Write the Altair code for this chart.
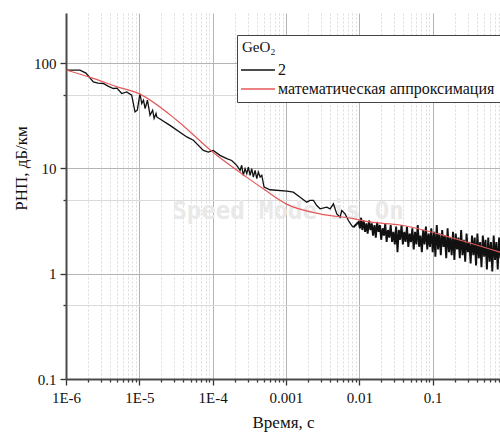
import altair as alt
import pandas as pd

# ---- data ----
# black curve "2" (smooth-ish part, up to ~0.008 s)
black_t = [1.0e-6, 1.55e-6, 1.87e-6, 2.36e-6, 2.73e-6, 3.23e-6, 3.74e-6, 4.42e-6, 4.96e-6, 5.75e-6,
           6.73e-6, 7.87e-6, 8.73e-6, 9.39e-6, 1.02e-5, 1.08e-5, 1.14e-5, 1.20e-5, 1.29e-5, 1.40e-5,
           1.52e-5, 1.59e-5, 1.69e-5, 1.73e-5, 2.62e-5, 4.44e-5, 5.46e-5, 7.47e-5, 8.73e-5, 1.02e-4,
           1.26e-4, 1.56e-4, 1.82e-4, 2.13e-4, 2.37e-4, 2.49e-4, 2.62e-4, 2.77e-4, 2.92e-4, 3.07e-4,
           3.24e-4, 3.41e-4, 3.59e-4, 3.79e-4, 4.00e-4, 4.20e-4, 4.44e-4, 4.68e-4, 4.92e-4, 5.03e-4,
           6.07e-4, 1.03e-3, 1.26e-3, 1.56e-3, 1.92e-3, 2.13e-3, 2.37e-3, 2.63e-3, 2.92e-3, 3.60e-3,
           4.00e-3, 4.44e-3, 4.68e-3, 4.93e-3, 5.47e-3, 5.77e-3, 6.40e-3, 7.10e-3, 7.90e-3, 8.30e-3]
black_v = [85.8, 85.8, 80.3, 66.4, 64.5, 64.0, 60.4, 57.4, 57.8, 51.4,
           53.3, 49.6, 34.4, 35.7, 51.4, 41.3, 44.4, 37.0, 44.4, 32.0,
           35.7, 29.8, 33.2, 30.8, 25.6, 19.9, 18.5, 14.8, 14.3, 14.8,
           13.3, 12.4, 11.9, 10.7, 9.57, 10.7, 8.58, 9.94, 8.9, 10.3,
           8.58, 9.94, 8.27, 9.57, 7.98, 9.22, 8.27, 8.58, 7.15, 6.64,
           6.27, 6.08, 5.95, 5.33, 4.78, 4.96, 4.96, 4.44, 4.13, 4.28,
           4.13, 4.61, 4.13, 3.70, 3.44, 3.98, 3.70, 3.20, 2.86, 2.76]

# black curve "2" (noisy part, 0.01 s and beyond)
noise_t = [0.0083, 0.0098, 0.0102, 0.0106, 0.0110, 0.0115, 0.0120, 0.0125, 0.0130, 0.0136, 0.0142,
           0.0148, 0.0154, 0.0161, 0.0168, 0.0175, 0.0183, 0.0191, 0.0199, 0.0208, 0.0217,
           0.0226, 0.0236, 0.0246, 0.0257, 0.0268, 0.0280, 0.0292, 0.0305, 0.0318, 0.0332,
           0.0346, 0.0361, 0.0377, 0.0393, 0.0410, 0.0428, 0.0447, 0.0466, 0.0486, 0.0507,
           0.0529, 0.0552, 0.0576, 0.0601, 0.0627, 0.0654, 0.0683, 0.0713, 0.0744, 0.0776,
           0.0810, 0.0845, 0.0882, 0.0920, 0.0960, 0.1002, 0.1046, 0.1091, 0.1139, 0.1188,
           0.1240, 0.1294, 0.1350, 0.1409, 0.1470, 0.1534, 0.1601, 0.1670, 0.1743, 0.1819,
           0.1898, 0.1980, 0.2066, 0.2156, 0.2250, 0.2348, 0.2450, 0.2556, 0.2667, 0.2783,
           0.2904, 0.3030, 0.3162, 0.3300, 0.3443, 0.3593, 0.3749, 0.3912, 0.4082, 0.4260,
           0.4445, 0.4638, 0.4840, 0.5050, 0.5270, 0.5499, 0.5738, 0.5988, 0.6248, 0.6520,
           0.6803, 0.7099, 0.7408, 0.7730, 0.8066, 0.8417]
noise_v = [2.76, 3.1, 2.7, 3.4, 2.6, 3.2, 2.5, 3.0, 2.4, 3.2, 2.6,
           3.0, 2.3, 2.9, 2.2, 3.1, 2.5, 2.9, 2.1, 2.7, 2.3,
           3.0, 2.0, 2.6, 2.2, 2.9, 2.0, 2.5, 1.9, 2.8, 1.6,
           2.6, 2.1, 2.9, 1.9, 2.5, 2.0, 2.8, 1.8, 2.4, 2.0,
           2.7, 1.7, 2.5, 1.9, 2.9, 1.8, 2.3, 1.6, 2.6, 1.9,
           2.8, 1.7, 2.4, 1.8, 2.7, 1.6, 2.5, 1.45, 2.9, 1.7,
           2.4, 1.5, 2.6, 1.8, 2.3, 1.4, 2.7, 1.6, 2.2, 1.5,
           2.5, 1.35, 2.4, 1.7, 2.2, 1.4, 2.6, 1.5, 2.1, 1.3,
           2.4, 1.6, 2.0, 1.25, 2.3, 1.5, 2.2, 1.2, 2.4, 1.4,
           2.0, 1.15, 2.3, 1.45, 2.1, 1.1, 2.2, 1.3, 2.0, 1.05,
           2.3, 1.35, 2.0, 1.1, 2.2, 1.4]

# red curve: mathematical approximation
red_t = [1e-6, 2.36e-6, 5e-6, 1e-5, 3.24e-5, 1e-4, 2.9e-4, 4.9e-4, 1.0e-3, 2.9e-3,
         8.0e-3, 0.014, 0.036, 0.173, 0.83]
red_v = [86, 71.5, 59.5, 51, 28.7, 14.3, 8.26, 6.4, 4.6, 3.7,
         3.35, 3.1, 2.9, 2.22, 1.6]

series_names = ["2", "математическая аппроксимация"]
series_colors = ["#111111", "#e3595a"]

x_decades = [1e-6, 1e-5, 1e-4, 1e-3, 1e-2, 1e-1]
x_mult = [1, 2, 3, 4, 5, 6, 7, 8, 9]
x_ticks = [float(f"{d * m:.10g}") for d in x_decades for m in x_mult if d * m <= 0.83]
y_ticks = [0.1, 0.5, 1, 5, 10, 50, 100]

df_black = pd.DataFrame({"t": black_t, "v": black_v, "series": series_names[0]})
df_noise = pd.DataFrame({"t": noise_t, "v": noise_v, "series": series_names[0]})
df_red = pd.DataFrame({"t": red_t, "v": red_v, "series": series_names[1]})

FONT = "Liberation Serif"
TXT = "#111111"
major = "abs(log(datum.value)/LN10 - round(log(datum.value)/LN10)) < 0.001"

x_axis = alt.Axis(
    values=x_ticks,
    labelExpr=f"({major}) ? (datum.value < 0.0005 ? '1E' + round(log(datum.value)/LN10) : format(datum.value, '~g')) : ''",
    grid=True,
    gridColor=alt.condition(major, alt.value("#b4b4b4"), alt.value("#dadada")),
    gridDash=alt.condition(major, alt.value([]), alt.value([2, 2])),
    tickSize=alt.condition(major, alt.value(6), alt.value(3)),
    tickColor="#333", tickWidth=1.3,
    domainColor="#4a4a4a", domainWidth=2,
    labelFont=FONT, labelFontSize=15, labelColor=TXT, labelPadding=5,
    labelFlush=False, labelOverlap=False,
    title="Время, с", titleFont=FONT, titleFontSize=17, titleFontWeight="normal",
    titleColor=TXT, titlePadding=9,
)
y_axis = alt.Axis(
    values=y_ticks,
    labelExpr=f"({major}) ? format(datum.value, '~g') : ''",
    grid=True,
    gridColor=alt.condition(major, alt.value("#b4b4b4"), alt.value("#dadada")),
    tickSize=alt.condition(major, alt.value(6), alt.value(3)),
    tickColor="#333", tickWidth=1.3,
    domainColor="#4a4a4a", domainWidth=2,
    labelFont=FONT, labelFontSize=15, labelColor=TXT, labelPadding=4,
    labelFlush=False, labelOverlap=False,
    title="РНП, дБ/км", titleFont=FONT, titleFontSize=17, titleFontWeight="normal",
    titleColor=TXT, titleX=-40, titleY=155, titleBaseline="alphabetic",
)

x_enc = alt.X("t:Q", scale=alt.Scale(type="log", domain=[1e-6, 0.83], nice=False), axis=x_axis)
y_enc = alt.Y("v:Q", scale=alt.Scale(type="log", domain=[0.1, 299], nice=False), axis=y_axis)
color_enc = alt.Color(
    "series:N",
    scale=alt.Scale(domain=series_names, range=series_colors),
    legend=alt.Legend(
        title="GeO₂", orient="none", legendX=171, legendY=22,
        symbolType="M-2.83,0H2.83", symbolSize=144, symbolStrokeWidth=1.5, symbolOffset=8,
        labelFont=FONT, labelFontSize=16, labelColor=TXT, labelLimit=400, labelOffset=12,
        titleFont=FONT, titleFontSize=15, titleFontWeight="normal", titleColor=TXT,
        padding=5, titlePadding=7, rowPadding=3,
        strokeColor="#444", fillColor="white",
    ),
)

black_line = alt.Chart(df_black).mark_line(strokeWidth=1.3, clip=True).encode(
    x=x_enc, y=y_enc, color=color_enc)
noise_line = alt.Chart(df_noise).mark_line(strokeWidth=1.9, clip=True).encode(
    x=x_enc, y=y_enc, color=color_enc)
red_line = alt.Chart(df_red).mark_line(strokeWidth=1.2, clip=True, interpolate="monotone").encode(
    x=x_enc, y=y_enc, color=color_enc)

watermark = alt.Chart(pd.DataFrame({"w": ["Speed Mode is On"]})).mark_text(
    font="DejaVu Sans Mono", fontSize=24, fontWeight="bold", color="#e9e9e9",
    align="center", baseline="middle",
).encode(text="w:N", x=alt.value(222), y=alt.value(199))

chart = alt.layer(watermark, black_line, noise_line, red_line).properties(
    width=434, height=366,
    autosize=alt.AutoSizeParams(type="none"),
    padding={"left": 66, "top": 13, "right": 0, "bottom": 56},
    background="white",
).configure_view(stroke=None).configure_axis(
    labelFont=FONT, titleFont=FONT
).configure_legend(labelFont=FONT, titleFont=FONT)

chart.save("out.html", embed_options={"renderer": "svg", "actions": False})
